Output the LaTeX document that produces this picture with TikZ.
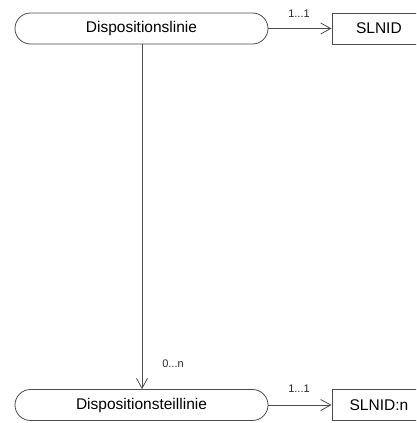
\documentclass[tikz,border=0pt]{standalone}
\usepackage{fontspec}
\setmainfont{Liberation Sans}
\usetikzlibrary{arrows.meta}
\begin{document}
\begin{tikzpicture}[x=1pt,y=-1pt,
  ent/.style={draw=black!70, line width=0.8pt, rounded corners=15.5pt, minimum width=253pt, minimum height=31pt, inner sep=0pt, font=\fontsize{15.5}{18}\selectfont},
  idbox/.style={draw=black!70, line width=0.8pt, minimum width=94pt, minimum height=31pt, inner sep=0pt, font=\fontsize{15.5}{18}\selectfont},
  rel/.style={draw=black!70, line width=0.8pt, -{Straight Barb[length=10pt,width=11pt]}},
  card/.style={font=\fontsize{11}{13}\selectfont, inner sep=1pt, text=black!85}]
\useasboundingbox (0,0) rectangle (416,423);
\clip (0,0) rectangle (416,423);
\node[ent] (dl) at (141.5,28.5) {Dispositionslinie};
\node[idbox, anchor=west] (sl) at (331.5,28.5) {SLNID};
\node[ent] (dtl) at (141.5,405) {Dispositionsteillinie};
\node[idbox, anchor=west] (sln) at (331.5,405) {SLNID:n};
\draw[rel] (dl.east) -- (sl.west);
\draw[rel] (dtl.east) -- (sln.west);
\draw[rel] (dl.south -| 142,0) -- (dtl.north -| 142,0);
\node[card] (c1) at (299,13.5) {1...1};
\node[card] (c2) at (299,389) {1...1};
\node[card] (c3) at (173,364) {0...n};
\end{tikzpicture}
\end{document}
